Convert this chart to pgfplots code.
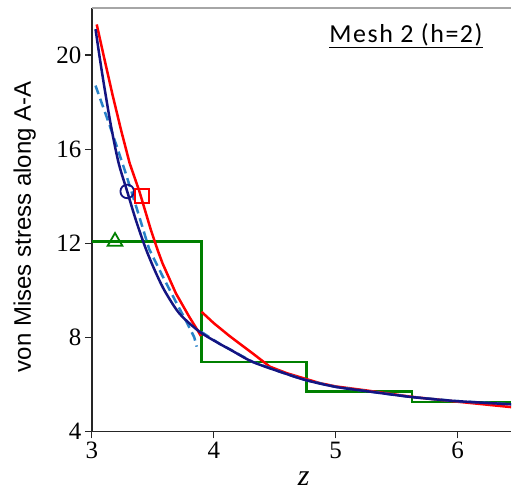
\documentclass[border=0pt]{standalone}
\usepackage{fontspec}
\setmainfont{Liberation Serif}
\newfontfamily\arialfont{Liberation Sans}
\newfontfamily\calibrifont[LetterSpace=6]{Carlito}
\usepackage{pgfplots}
\pgfplotsset{compat=1.18}
\definecolor{ffred}{RGB}{255,0,0}
\definecolor{navyline}{RGB}{20,20,130}
\definecolor{dashblue}{RGB}{40,130,200}
\definecolor{stepgreen}{RGB}{0,128,0}
\begin{document}
\begin{tikzpicture}
\begin{axis}[
    scale only axis,
    width=420pt, height=424pt,
    xmin=3, xmax=6.44,
    ymin=4, ymax=22,
    axis lines=left,
    axis line style={-, line width=1.6pt, black!85},
    tick align=outside,
    major tick length=7pt,
    tick style={line width=1.2pt, black!85},
    xtick={3,4,5,6},
    ytick={4,8,12,16,20},
    /pgf/number format/assume math mode=true,
    ticklabel style={font=\fontsize{25}{30}\selectfont},
    xlabel={\textit{z}},
    xlabel style={at={(axis description cs:0.505,0)}, anchor=center, yshift=-47pt,
        font=\fontsize{30}{34}\selectfont},
    ylabel={von Mises stress along A-A},
    ylabel style={at={(axis description cs:-0.16,0.483)}, anchor=center,
        font=\arialfont\fontsize{24}{28}\selectfont},
    clip=true,
]
% top frame line (grey)
\draw[gray!70, line width=2pt] (rel axis cs:0,1) -- (rel axis cs:1,1);

% green step (element averages)
\addplot[stepgreen, line width=2.6pt] coordinates {
    (3.0,12.07) (3.9,12.07) (3.9,6.95) (4.76,6.95) (4.76,5.70)
    (5.625,5.70) (5.625,5.25) (6.44,5.25)
};

% red curve, first piece
\addplot[ffred, line width=2.5pt] coordinates {
    (3.04,21.3) (3.10,19.9) (3.17,18.3) (3.24,16.8) (3.31,15.4)
    (3.39,14.2) (3.485,12.55) (3.54,11.7) (3.58,11.14) (3.69,9.86)
    (3.80,8.86) (3.867,8.3) (3.895,8.05)
};
% red curve, second piece
\addplot[ffred, line width=2.5pt] coordinates {
    (3.90,9.08) (4.00,8.60) (4.13,8.05) (4.32,7.31) (4.46,6.75)
    (4.60,6.47) (4.87,6.05) (5.0,5.91) (5.25,5.74) (5.62,5.47)
    (5.98,5.27) (6.44,5.03)
};

% dashed curve, first element
\addplot[dashblue, line width=2.5pt, dash pattern=on 9pt off 5pt] coordinates {
    (3.03,18.7) (3.15,16.95) (3.27,15.1) (3.37,13.45) (3.47,11.75)
    (3.58,10.6) (3.69,9.5) (3.77,8.72) (3.84,8.0) (3.86,7.6)
};
% dashed curve, following elements
\addplot[dashblue, line width=2.5pt, dash pattern=on 9pt off 5pt] coordinates {
    (3.90,8.22) (4.045,7.73) (4.13,7.49) (4.32,6.95) (4.59,6.45)
    (4.76,6.17) (5.0,5.89) (5.25,5.71) (5.62,5.46) (5.98,5.29) (6.44,5.15)
};

% navy curve (reference solution)
\addplot[navyline, line width=2.5pt, smooth] coordinates {
    (3.03,21.1) (3.07,19.7) (3.11,18.4) (3.16,16.9) (3.22,15.4)
    (3.29,14.2) (3.36,13.0) (3.44,11.8) (3.52,10.8) (3.60,9.95)
    (3.72,9.0) (3.88,8.25) (4.045,7.73) (4.13,7.49) (4.32,6.95)
    (4.59,6.45) (4.76,6.17) (5.0,5.89) (5.25,5.71) (5.62,5.46)
    (5.98,5.29) (6.44,5.15)
};

% markers
\addplot[only marks, mark=o, mark size=6.8pt, navyline, line width=1.8pt]
    coordinates {(3.29,14.2)};
\addplot[only marks, mark=square, mark size=6.8pt, ffred, line width=1.8pt]
    coordinates {(3.41,14.0)};
\addplot[only marks, mark=triangle, mark size=8.5pt, stepgreen, line width=1.8pt]
    coordinates {(3.19,12.07)};

\node[font=\calibrifont\fontsize{26}{30}\selectfont, anchor=center]
    at (rel axis cs:0.749,0.935) {\underline{Mesh 2 (h=2)}};
\end{axis}
\path ([xshift=-92pt,yshift=-66pt]current axis.south west)
    rectangle ([yshift=8pt]current axis.north east);
\end{tikzpicture}
\end{document}
